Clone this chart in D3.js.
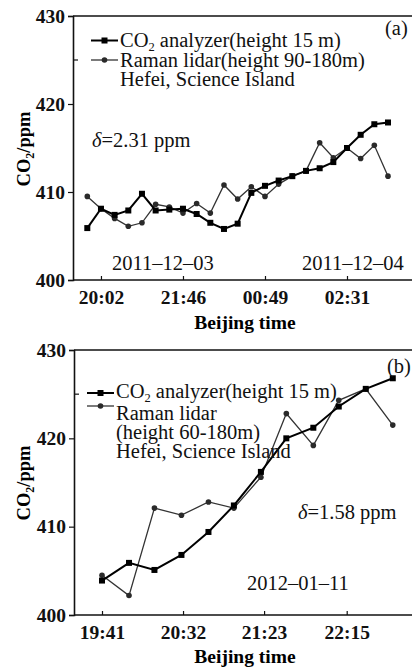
<!DOCTYPE html>
<html>
<head>
<meta charset="utf-8">
<script src="https://cdn.jsdelivr.net/npm/d3@7"></script>
<style>
  body { margin: 0; background: white; }
  svg { display: block; font-family: "Liberation Serif", "Times New Roman", serif; }
</style>
</head>
<body>
<svg id="chart" width="412" height="669"></svg>
<script>
// panel (a): 2011-12-03 / 04, sample index along x
var analyzerA = [405.9, 408.1, 407.4, 407.9, 409.8, 407.9, 408.0, 408.1, 407.5, 406.5, 405.8, 406.4,
  409.9, 410.7, 411.3, 411.8, 412.4, 412.7, 413.4, 415.0, 416.5, 417.7, 417.9];
var lidarA = [409.5, 408.1, 407.0, 406.1, 406.5, 408.6, 408.3, 407.6, 408.7, 407.6, 410.8, 409.2,
  410.6, 409.5, 410.9, 411.8, 412.4, 415.6, 413.9, 415.0, 413.8, 415.3, 411.8];
var tickIndexA = [1, 7, 13, 19];
var tickLabelsA = ["20:02", "21:46", "00:49", "02:31"];

// panel (b): 2012-01-11, Beijing time
var timesB = ["19:41", "19:58", "20:14", "20:31", "20:48", "21:04", "21:21", "21:37", "21:54", "22:10", "22:27", "22:44"];
var analyzerB = [403.9, 405.9, 405.1, 406.8, 409.4, 412.4, 416.2, 420.0, 421.2, 423.6, 425.6, 426.8];
var lidarB = [404.5, 402.2, 412.1, 411.3, 412.8, 412.1, 415.6, 422.8, 419.2, 424.3, 425.6, 421.5];
var tickLabelsB = ["19:41", "20:32", "21:23", "22:15"];

var yTicks = [400, 410, 420, 430];

var serif = "'Liberation Serif', 'Times New Roman', serif";

var toMin = function(s) {
  var p = s.split(":");
  var m = +p[0] * 60 + +p[1];
  return m - 19 * 60 - 41;
};

var svg = d3.select("#chart");

var drawPanel = function(o) {
  var g = svg.append("g");
  var x = o.x, y = o.y;
  var left = o.left, right = 413;

  // frame: top and bottom lines
  g.append("path")
    .attr("d", "M" + [[left, y(430)], [right, y(430)]].join("L"))
    .attr("stroke", "#111").attr("stroke-width", 1.6).attr("fill", "none");
  g.append("path")
    .attr("d", "M" + [[left, y(400)], [right, y(400)]].join("L"))
    .attr("stroke", "#111").attr("stroke-width", 1.6).attr("fill", "none");

  var yAxis = g.append("g")
    .attr("transform", "translate(" + left + ",0)")
    .call(d3.axisLeft(y).tickValues(yTicks).tickSize(5).tickPadding(3).tickFormat(d3.format("d")))
    .attr("font-family", serif);
  yAxis.select(".domain").attr("stroke", "#111").attr("stroke-width", 1.6);
  yAxis.selectAll(".tick line").attr("stroke", "#111").attr("stroke-width", 1.2);
  yAxis.selectAll(".tick text")
    .attr("font-size", 19.5).attr("font-weight", "bold").attr("fill", "#111");
  // minor tick inside
  g.append("line")
    .attr("x1", left).attr("x2", left + 5)
    .attr("y1", y(425)).attr("y2", y(425))
    .attr("stroke", "#111").attr("stroke-width", 1.2);

  var xAxis = g.append("g")
    .attr("transform", "translate(0," + y(400) + ")")
    .call(d3.axisBottom(x).tickValues(o.tickValues).tickSize(-4).tickPadding(10)
      .tickFormat(function(d, i) { return o.tickLabels[i]; }))
    .attr("font-family", serif);
  xAxis.select(".domain").remove();
  xAxis.selectAll(".tick line").attr("stroke", "#111").attr("stroke-width", 1.2);
  xAxis.selectAll(".tick text")
    .attr("font-size", 19.5).attr("font-weight", "bold").attr("fill", "#111");

  g.append("text")
    .attr("x", 245).attr("y", o.titleY)
    .attr("text-anchor", "middle")
    .attr("font-size", 19.5).attr("font-weight", "bold")
    .text("Beijing time");

  var yl = g.append("text")
    .attr("transform", "translate(30," + o.labelY + ") rotate(-90)")
    .attr("text-anchor", "middle")
    .attr("font-size", 18.5).attr("font-weight", "bold");
  yl.append("tspan").text("CO");
  yl.append("tspan").attr("font-size", 12).attr("dy", 4).text("2");
  yl.append("tspan").attr("dy", -4).text("/ppm");

  // series
  var line = d3.line()
    .x(function(d) { return x(d[0]); })
    .y(function(d) { return y(d[1]); });

  var lid = o.xs.map(function(v, i) { return [v, o.lidar[i]]; });
  var ana = o.xs.map(function(v, i) { return [v, o.analyzer[i]]; });

  g.append("path").datum(lid)
    .attr("d", line).attr("fill", "none")
    .attr("stroke", "#333").attr("stroke-width", 1.3);
  g.selectAll("circle.lid").data(lid).enter().append("circle")
    .attr("cx", function(d) { return x(d[0]); })
    .attr("cy", function(d) { return y(d[1]); })
    .attr("r", 2.8).attr("fill", "#2a2a2a");

  g.append("path").datum(ana)
    .attr("d", line).attr("fill", "none")
    .attr("stroke", "#000").attr("stroke-width", 2);
  g.selectAll("rect.ana").data(ana).enter().append("rect")
    .attr("x", function(d) { return x(d[0]) - 3; })
    .attr("y", function(d) { return y(d[1]) - 3; })
    .attr("width", 6).attr("height", 6).attr("fill", "#000");

  // legend
  var lg = g.append("g");
  var lx = o.legend.x, l1 = o.legend.y1, l2 = o.legend.y2;
  lg.append("line").attr("x1", lx).attr("x2", lx + 27).attr("y1", l1).attr("y2", l1)
    .attr("stroke", "#000").attr("stroke-width", 2);
  lg.append("rect").attr("x", lx + 10.5).attr("y", l1 - 3).attr("width", 6).attr("height", 6).attr("fill", "#000");
  lg.append("line").attr("x1", lx).attr("x2", lx + 27).attr("y1", l2).attr("y2", l2)
    .attr("stroke", "#333").attr("stroke-width", 1.3);
  lg.append("circle").attr("cx", lx + 13.5).attr("cy", l2).attr("r", 2.8).attr("fill", "#2a2a2a");

  var t1 = lg.append("text")
    .attr("x", lx + 29).attr("y", o.legend.lines[0])
    .attr("font-size", 20.5).attr("fill", "#111");
  t1.append("tspan").text("CO");
  t1.append("tspan").attr("font-size", 12.5).attr("dy", 4).text("2");
  t1.append("tspan").attr("dy", -4).text(" analyzer(height 15 m)");
  o.legend.text.forEach(function(s, i) {
    lg.append("text")
      .attr("x", lx + 29).attr("y", o.legend.lines[i + 1])
      .attr("font-size", 20.5).attr("fill", "#111")
      .text(s);
  });

  o.notes.forEach(function(n) {
    var t = g.append("text")
      .attr("x", n.x).attr("y", n.y)
      .attr("font-size", 20.5).attr("fill", "#111");
    if (n.delta) {
      t.append("tspan").attr("font-style", "italic").text("δ");
      t.append("tspan").text(n.text);
    } else {
      t.text(n.text);
    }
  });
};

var idxA = analyzerA.map(function(d, i) { return i; });
drawPanel({
  left: 73,
  x: d3.scaleLinear().domain([0, 22]).range([87.3, 388]),
  y: d3.scaleLinear().domain([400, 430]).range([280, 16]),
  xs: idxA,
  analyzer: analyzerA,
  lidar: lidarA,
  tickValues: tickIndexA,
  tickLabels: tickLabelsA,
  titleY: 329,
  labelY: 149,
  legend: { x: 91, y1: 40.5, y2: 60, lines: [46.5, 66.5, 86],
    text: ["Raman lidar(height 90-180m)", "Hefei, Science Island"] },
  notes: [
    { x: 385, y: 35, text: "(a)" },
    { x: 92, y: 147, text: "=2.31 ppm", delta: true },
    { x: 112, y: 270, text: "2011\u201312\u201303" },
    { x: 302, y: 270, text: "2011\u201312\u201304" }
  ]
});

drawPanel({
  left: 74,
  x: d3.scaleLinear().domain([0, 154]).range([102, 346.7]),
  y: d3.scaleLinear().domain([400, 430]).range([615, 350]),
  xs: timesB.map(toMin),
  analyzer: analyzerB,
  lidar: lidarB,
  tickValues: tickLabelsB.map(toMin),
  tickLabels: tickLabelsB,
  titleY: 663,
  labelY: 483,
  legend: { x: 87, y1: 393, y2: 406, lines: [397.5, 420, 439, 457.5],
    text: ["Raman lidar", "(height 60-180m)", "Hefei, Science Island"] },
  notes: [
    { x: 387, y: 373, text: "(b)" },
    { x: 298, y: 519, text: "=1.58 ppm", delta: true },
    { x: 247, y: 590, text: "2012\u201301\u201311" }
  ]
});
</script>
</body>
</html>
